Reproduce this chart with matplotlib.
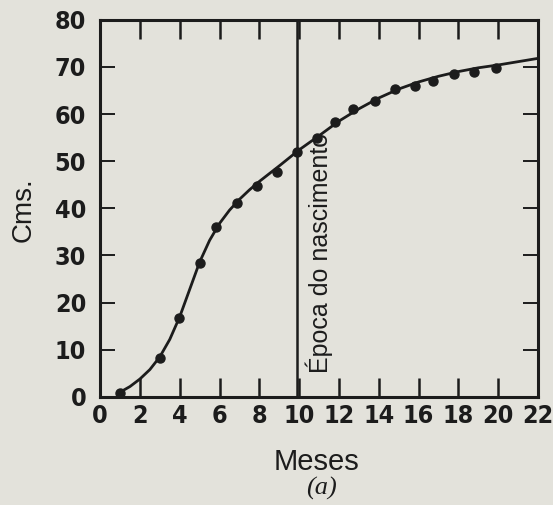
import matplotlib
matplotlib.use("Agg")
import matplotlib.pyplot as plt

# measured points (month, cm)
months = [1.0, 3.0, 3.95, 5.0, 5.8, 6.9, 7.9, 8.9, 9.9, 10.9, 11.8, 12.7,
          13.8, 14.8, 15.8, 16.7, 17.8, 18.8, 19.9]
cms = [0.9, 8.2, 16.7, 28.4, 36.1, 41.2, 44.7, 47.7, 52.0, 54.9, 58.4, 61.1,
       62.8, 65.3, 65.9, 67.0, 68.4, 68.9, 69.8]

# fitted growth curve
curve_x = [1.0, 1.5, 2.0, 2.5, 3.0, 3.5, 4.0, 4.5, 5.0, 5.5, 6.0, 6.5, 7.0,
           7.5, 8.0, 9.0, 10.0, 11.0, 12.0, 13.0, 14.0, 15.0, 16.0, 17.0,
           18.0, 19.0, 20.0, 21.0, 22.0]
curve_y = [1.0, 2.2, 3.8, 5.8, 8.5, 12.2, 17.0, 22.8, 28.6, 33.2, 36.8, 39.6,
           41.9, 43.9, 45.7, 49.0, 52.4, 55.4, 58.5, 61.1, 63.4, 65.3, 66.8,
           68.0, 69.0, 69.8, 70.4, 71.1, 71.8]

birth_month = 9.9
xticks = list(range(0, 23, 2))
yticks = list(range(0, 81, 10))

paper = "#e3e2db"
ink = "#1c1c1c"

fig = plt.figure(figsize=(5.53, 5.05), dpi=100, facecolor=paper)
ax = fig.add_axes([0.181, 0.214, 0.792, 0.747], facecolor=paper)

ax.plot(curve_x, curve_y, color=ink, linewidth=2.0, solid_capstyle="round")
ax.plot(months, cms, "o", color=ink, markersize=6.5)
ax.axvline(birth_month, color=ink, linewidth=1.8)
ax.text(birth_month + 1.1, 5.0, "Época do nascimento", rotation=90,
        ha="center", va="bottom", fontsize=18, color=ink,
        family="Liberation Sans")

ax.set_xlim(0, 22)
ax.set_ylim(0, 80)
ax.set_xticks(xticks)
ax.set_yticks(yticks)

tick_font = dict(family="DejaVu Sans", weight="bold", stretch="condensed",
                 size=18)
ax.set_xticklabels([str(v) for v in xticks], fontdict=tick_font, color=ink)
ax.set_yticklabels([str(v) for v in yticks], fontdict=tick_font, color=ink)
ax.tick_params(axis="x", direction="in", top=True, length=14, width=1.8,
               pad=5, color=ink)
ax.tick_params(axis="y", direction="in", right=True, length=11, width=1.4,
               pad=10, color=ink)

for s in ax.spines.values():
    s.set_linewidth(2.2)
    s.set_color(ink)

fig.text(24 / 553, 1 - 210 / 505, "Cms.", rotation=90, ha="center",
         va="center", fontsize=20, color=ink, family="Liberation Sans")
fig.text(316 / 553, 1 - 470 / 505, "Meses", ha="center", va="baseline",
         fontsize=21, color=ink, family="Liberation Sans")
fig.text(321 / 553, 1 - 488 / 505, "(a)", ha="center", va="center",
         fontsize=19, style="italic", color=ink, family="Liberation Serif")

fig.savefig("out.png", dpi=100, facecolor=paper)
